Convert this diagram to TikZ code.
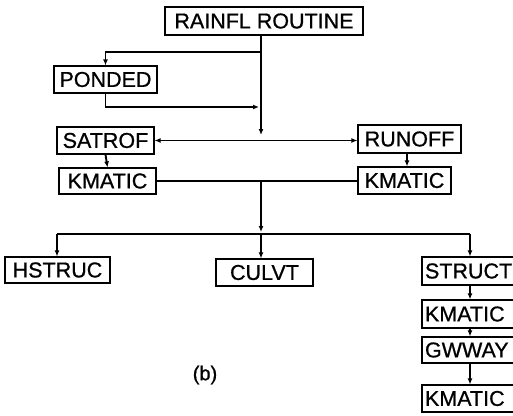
\documentclass[tikz,border=0pt]{standalone}
\usepackage{fontspec}
\setmainfont{Liberation Sans}
\newfontfamily\labelfont{Liberation Sans}[FakeBold=0.8]
\usetikzlibrary{arrows.meta}
\begin{document}
\begin{tikzpicture}[x=1pt,y=-1pt,
  box/.style={draw,line width=1.1pt,inner sep=0pt,font=\labelfont\fontsize{21.5}{25}\selectfont},
  col/.style={box,minimum width=98pt,text width=92pt,align=left},
  link/.style={line width=1.9pt},
  arr/.style={link,-{Latex[length=6pt,width=5pt]}},
  darr/.style={link,{Latex[length=6pt,width=5pt]}-{Latex[length=6pt,width=5pt]}}]
\useasboundingbox (0,0) rectangle (513,415);
% boxes
\node[box,minimum width=198pt,minimum height=28pt] (rain) at (264,21) {RAINFL ROUTINE};
\node[box,minimum width=103pt,minimum height=27pt] (ponded) at (105.5,79.5) {PONDED};
\node[box,minimum width=97pt,minimum height=27pt] (satrof) at (105.5,140.5) {SATROF};
\node[box,minimum width=103pt,minimum height=28pt] (runoff) at (409.5,139) {RUNOFF};
\node[box,minimum width=97pt,minimum height=26pt] (kmA) at (107.5,181) {KMATIC};
\node[box,minimum width=93pt,minimum height=27pt] (kmB) at (404.5,180.5) {KMATIC};
\node[box,minimum width=105pt,minimum height=26pt] (hstruc) at (57.5,270) {HSTRUC};
\node[box,minimum width=97pt,minimum height=27pt] (culvt) at (264.5,272.5) {CULVT};
\node[col,minimum height=28pt] (struct) at (471,271) {STRUCT};
\node[col,minimum height=28pt] (kmC) at (471,314) {KMATIC};
\node[col,minimum height=26pt] (gwway) at (471,350) {GWWAY};
\node[col,minimum height=27pt] (kmD) at (471,398.5) {KMATIC};
\node[font=\labelfont\fontsize{20}{24}\selectfont] (lab) at (205,375) {(b)};
% junction points
\coordinate (j0) at (261,35);
\coordinate (jA) at (261,135);
\coordinate (jP) at (261,52);
\coordinate (jR) at (259,107);
\coordinate (jK) at (261,182);
\coordinate (jD) at (261,232);
\coordinate (bL) at (57,234);
\coordinate (bM) at (261,234);
\coordinate (bR) at (470,234);
% connectors
\draw[arr] (j0) -- (jA);
\draw[arr] (jP) -| (ponded.north);
\draw[arr] (ponded.south) |- (jR);
\draw[darr] (satrof.east) -- (runoff.west |- satrof.east);
\draw[arr] (satrof.south) -- (kmA.north);
\draw[arr] (runoff.south -| 407,0) -- (kmB.north -| 407,0);
\draw[link] (kmA.east) -- (kmB.west |- kmA.east);
\draw[arr] (jK) -- (jD);
\draw[link] (bL) -- (bR);
\draw[arr] (bL) -- (hstruc.north -| bL);
\draw[arr] (bM) -- (culvt.north -| bM);
\draw[arr] (bR) -- (struct.north -| bR);
\draw[arr] (struct.south -| bR) -- (kmC.north -| bR);
\draw[arr] (kmC.south -| bR) -- (gwway.north -| bR);
\draw[arr] (gwway.south -| bR) -- (kmD.north -| bR);
\end{tikzpicture}
\end{document}
